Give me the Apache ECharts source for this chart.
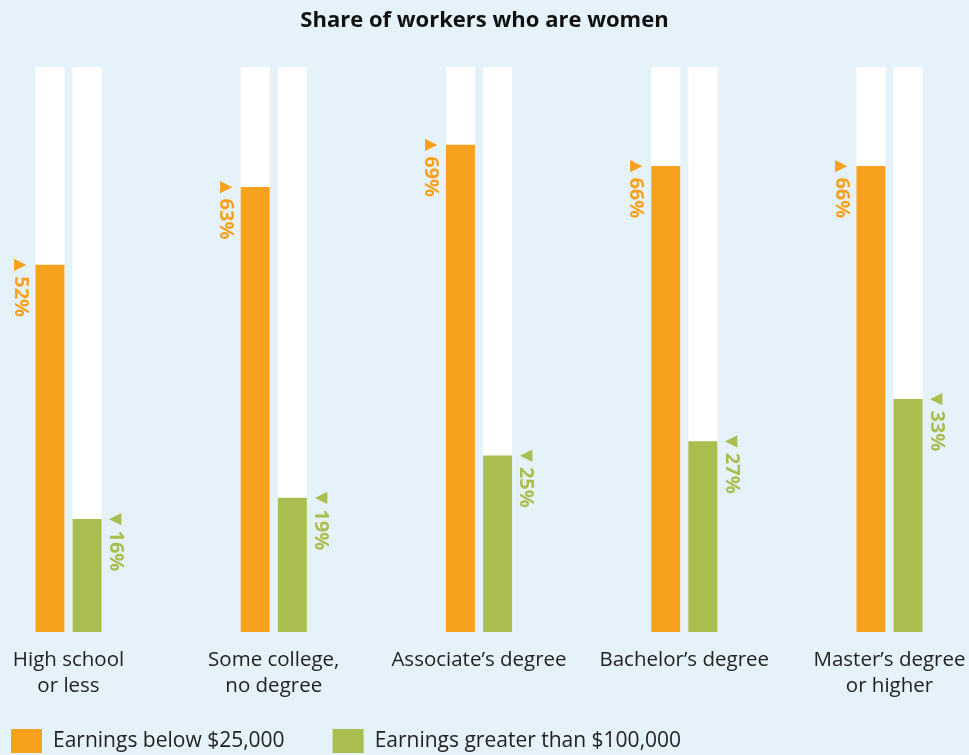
<!DOCTYPE html>
<html>
<head>
<meta charset="utf-8">
<script src="https://cdn.jsdelivr.net/npm/echarts@6/dist/echarts.min.js"></script>
<style>
  html, body { margin: 0; padding: 0; background: #e6f2fa; }
  #chart { width: 969px; height: 755px; }
</style>
</head>
<body>
<div id="chart"></div>
<script>
const categories = [
    "High school\nor less",
    "Some college,\nno degree",
    "Associate\u2019s degree",
    "Bachelor\u2019s degree",
    "Master\u2019s degree\nor higher",
];
const lowEarners = [52, 63, 69, 66, 66];
const highEarners = [16, 19, 25, 27, 33];
const seriesNames = ["Earnings below $25,000", "Earnings greater than $100,000"];

const ORANGE = "#f7a21f";
const GREEN = "#aabd4f";
const FONT = "Open Sans";

const chart = echarts.init(document.getElementById("chart"));

const option = {
    backgroundColor: "#e6f2fa",
    animation: false,
    title: {
        text: "Share of workers who are women",
        left: "center",
        top: 5,
        textStyle: { fontFamily: FONT, fontSize: 22, fontWeight: "bold", color: "#111" },
    },
    legend: {
        left: 11,
        bottom: 2,
        padding: 0,
        itemWidth: 31,
        itemHeight: 24,
        itemGap: 48,
        icon: "rect",
        textStyle: { fontFamily: FONT, fontSize: 21, color: "#222", padding: [0, 0, 0, 6] },
        data: seriesNames,
    },
    grid: { left: 68.5, right: 79.5, top: 67, bottom: 123 },
    xAxis: {
        type: "category",
        boundaryGap: false,
        data: categories,
        axisLine: { show: false },
        axisTick: { show: false },
        axisLabel: {
            fontFamily: FONT,
            fontSize: 20.5,
            color: "#222",
            lineHeight: 26,
            margin: 15,
            interval: 0,
        },
    },
    yAxis: {
        type: "value",
        min: 0,
        max: 80,
        show: false,
        splitLine: { show: false },
    },
    series: [
        {
            name: seriesNames[0],
            type: "bar",
            barWidth: 29,
            barGap: "28%",
            itemStyle: { color: ORANGE },
            showBackground: true,
            backgroundStyle: { color: "#ffffff" },
            label: {
                show: true,
                position: [-15, -6],
                rotate: -90,
                align: "left",
                verticalAlign: "middle",
                formatter: (p) => "{t|\u25B2} " + p.value + "%",
                color: ORANGE,
                fontFamily: FONT,
                fontSize: 20,
                fontWeight: "bold",
                rich: { t: { fontSize: 16, color: ORANGE, fontFamily: "DejaVu Sans" } },
            },
            data: lowEarners,
        },
        {
            name: seriesNames[1],
            type: "bar",
            barWidth: 29,
            itemStyle: { color: GREEN },
            showBackground: true,
            backgroundStyle: { color: "#ffffff" },
            label: {
                show: true,
                position: [43, -6],
                rotate: -90,
                align: "left",
                verticalAlign: "middle",
                formatter: (p) => "{t|\u25BC} " + p.value + "%",
                color: GREEN,
                fontFamily: FONT,
                fontSize: 20,
                fontWeight: "bold",
                rich: { t: { fontSize: 16, color: GREEN, fontFamily: "DejaVu Sans" } },
            },
            data: highEarners,
        },
    ],
};

chart.setOption(option);
</script>
</body>
</html>
